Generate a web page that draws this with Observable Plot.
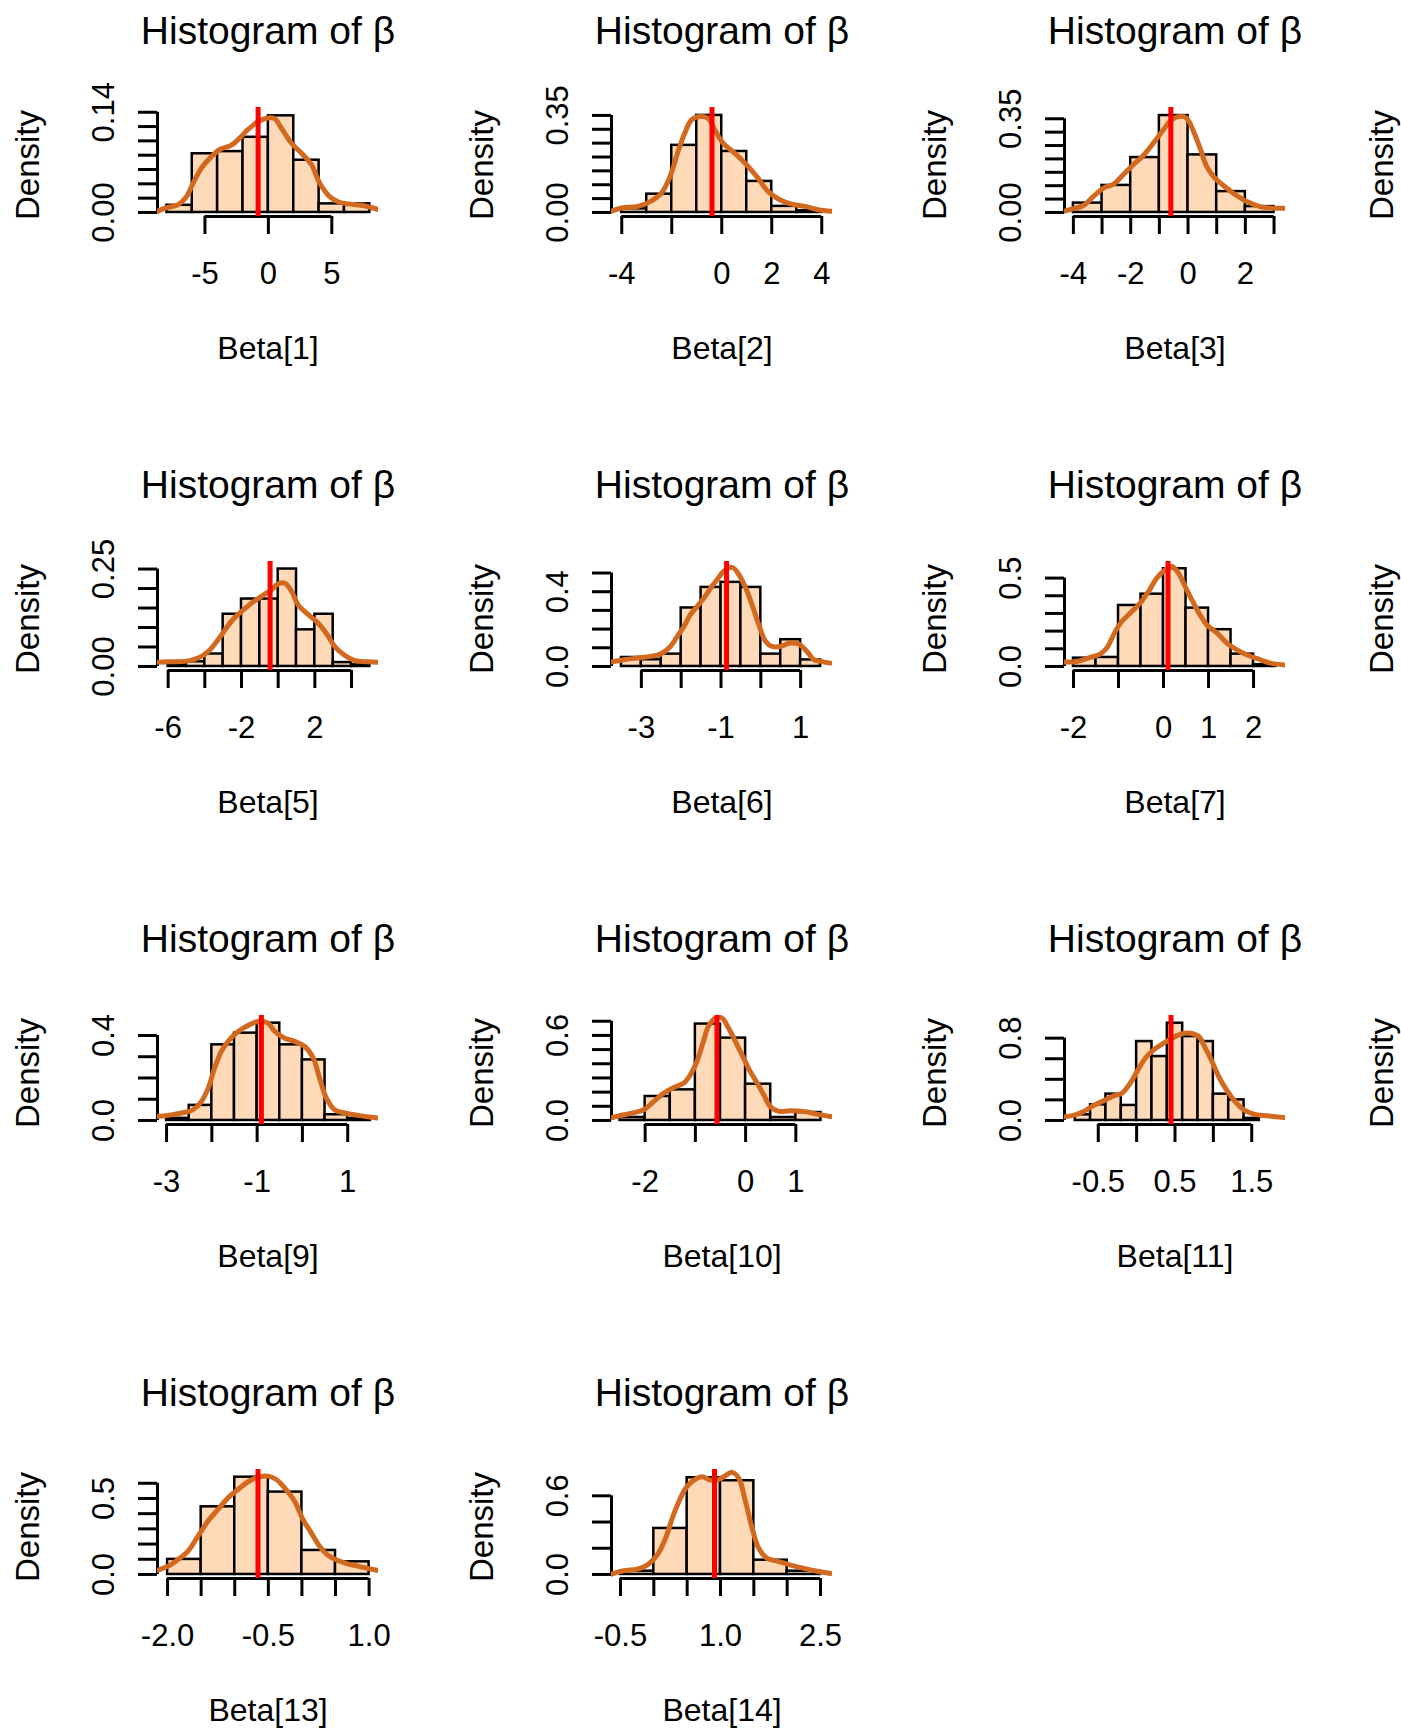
<!DOCTYPE html>
<html><head><meta charset="utf-8">
<script src="https://cdn.jsdelivr.net/npm/d3@7"></script>
<script src="https://cdn.jsdelivr.net/npm/@observablehq/plot@0.6"></script>
<style>
html,body{margin:0;padding:0;background:#fff;}
#page{position:relative;width:1401px;height:1728px;overflow:hidden;background:#fff;}
.cell{position:absolute;width:454px;height:454px;}
</style></head><body><div id="page"></div>
<script>
// ---- data ----
const betaIndex = [1, 2, 3, 5, 6, 7, 9, 10, 11, 13, 14];
const breakStart = [-8, -4, -4, -6, -3.5, -2, -3, -2.5, -0.8, -2, -0.5];
const binWidth = [2, 1, 1, 1, 0.5, 0.5, 0.5, 0.5, 0.2, 0.5, 0.5];
const barDensity = [
  [0.010, 0.082, 0.085, 0.105, 0.135, 0.073, 0.012, 0.012],
  [0.013, 0.066, 0.242, 0.350, 0.220, 0.112, 0.022, 0.006],
  [0.035, 0.101, 0.205, 0.362, 0.215, 0.078, 0.022],
  [0.004, 0.012, 0.032, 0.134, 0.173, 0.173, 0.250, 0.094, 0.134, 0.010, 0.004],
  [0.048, 0.036, 0.066, 0.313, 0.423, 0.450, 0.423, 0.066, 0.143, 0.035],
  [0.047, 0.051, 0.345, 0.409, 0.553, 0.330, 0.208, 0.070, 0.010],
  [0.010, 0.071, 0.356, 0.411, 0.458, 0.356, 0.285, 0.027, 0.008],
  [0.021, 0.169, 0.216, 0.680, 0.581, 0.256, 0.021, 0.056],
  [0.055, 0.152, 0.256, 0.146, 0.767, 0.621, 0.945, 0.815, 0.767, 0.256, 0.200, 0.020],
  [0.099, 0.445, 0.640, 0.542, 0.158, 0.083],
  [0.025, 0.351, 0.738, 0.715, 0.109, 0.025]
];
const curveX = [
  [-8.82,-8.16,-7.11,-6.46,-5.93,-5.28,-4.49,-3.83,-2.91,-2.26,-1.60,-0.81,-0.03,0.50,1.02,1.81,2.60,3.39,4.04,4.83,5.49,6.27,7.32,8.71],
  [-4.44,-4.01,-3.35,-2.81,-2.41,-2.15,-1.95,-1.75,-1.48,-1.21,-0.88,-0.55,-0.28,0.05,0.52,0.99,1.45,1.85,2.32,2.79,3.32,3.85,4.43],
  [-4.35,-4.0,-3.65,-3.30,-2.95,-2.60,-2.26,-1.91,-1.56,-1.21,-0.86,-0.57,-0.28,-0.05,0.19,0.42,0.65,0.94,1.28,1.58,2.05,2.51,2.98,3.38],
  [-6.6,-6.0,-5.09,-4.18,-3.64,-3.09,-2.55,-2.0,-1.45,-0.91,-0.36,0,0.36,0.73,1.09,1.64,2.18,2.64,3.09,3.64,4.18,4.91,5.45],
  [-3.77,-3.44,-3.10,-2.77,-2.52,-2.27,-2.10,-1.93,-1.77,-1.60,-1.43,-1.26,-1.10,-0.93,-0.72,-0.55,-0.38,-0.22,-0.05,0.12,0.28,0.49,0.74,0.95,1.16,1.33,1.50,1.75],
  [-2.22,-1.93,-1.63,-1.41,-1.26,-1.11,-0.96,-0.74,-0.52,-0.33,-0.15,0.04,0.19,0.33,0.48,0.63,0.81,0.96,1.19,1.41,1.63,1.85,2.15,2.37,2.67],
  [-3.21,-2.97,-2.67,-2.42,-2.23,-2.08,-1.94,-1.79,-1.64,-1.42,-1.20,-0.98,-0.76,-0.61,-0.39,-0.17,0.05,0.24,0.38,0.53,0.71,0.94,1.23,1.67],
  [-2.69,-2.49,-2.26,-2.03,-1.83,-1.63,-1.43,-1.23,-1.10,-0.97,-0.84,-0.74,-0.60,-0.47,-0.34,-0.17,-0.04,0.09,0.23,0.36,0.49,0.66,0.89,1.15,1.42,1.69],
  [-0.952,-0.822,-0.691,-0.561,-0.430,-0.300,-0.191,-0.083,0.004,0.113,0.222,0.352,0.461,0.570,0.700,0.809,0.896,0.983,1.070,1.157,1.265,1.396,1.526,1.700,1.917],
  [-2.157,-1.993,-1.844,-1.696,-1.547,-1.398,-1.249,-1.100,-0.952,-0.803,-0.654,-0.506,-0.382,-0.258,-0.109,0.015,0.139,0.263,0.387,0.536,0.684,0.833,0.982,1.130],
  [-0.65,-0.45,-0.25,-0.10,0.05,0.175,0.275,0.375,0.475,0.60,0.725,0.85,0.95,1.05,1.175,1.275,1.375,1.475,1.575,1.70,1.85,2.05,2.25,2.45,2.65]
];
const curveY = [
  [0.001,0.006,0.011,0.022,0.041,0.062,0.078,0.088,0.094,0.104,0.116,0.127,0.132,0.131,0.118,0.097,0.083,0.067,0.041,0.022,0.015,0.012,0.010,0.004],
  [0.004,0.016,0.022,0.042,0.070,0.112,0.160,0.220,0.286,0.334,0.346,0.340,0.298,0.250,0.214,0.172,0.124,0.076,0.046,0.030,0.022,0.010,0.004],
  [0.004,0.014,0.026,0.060,0.091,0.106,0.141,0.178,0.213,0.259,0.309,0.346,0.359,0.352,0.303,0.240,0.172,0.128,0.097,0.072,0.041,0.022,0.016,0.016],
  [0.011,0.012,0.013,0.026,0.047,0.081,0.116,0.141,0.163,0.180,0.197,0.212,0.214,0.193,0.158,0.133,0.111,0.084,0.051,0.028,0.015,0.012,0.011],
  [0.023,0.036,0.045,0.054,0.066,0.107,0.161,0.214,0.277,0.321,0.366,0.420,0.464,0.509,0.530,0.491,0.420,0.330,0.223,0.134,0.107,0.107,0.125,0.120,0.080,0.036,0.027,0.018],
  [0.025,0.028,0.051,0.070,0.104,0.179,0.245,0.302,0.358,0.425,0.500,0.547,0.566,0.528,0.453,0.377,0.292,0.236,0.189,0.132,0.094,0.066,0.038,0.019,0.009],
  [0.019,0.024,0.035,0.050,0.089,0.152,0.246,0.325,0.372,0.419,0.447,0.466,0.458,0.419,0.387,0.372,0.348,0.293,0.199,0.105,0.050,0.035,0.024,0.011],
  [0.017,0.035,0.052,0.075,0.134,0.193,0.233,0.264,0.322,0.416,0.558,0.664,0.722,0.722,0.652,0.534,0.440,0.346,0.264,0.181,0.099,0.064,0.068,0.064,0.045,0.028],
  [0.035,0.050,0.087,0.146,0.191,0.239,0.265,0.362,0.475,0.605,0.686,0.751,0.799,0.838,0.848,0.816,0.702,0.573,0.427,0.314,0.201,0.104,0.061,0.045,0.029],
  [0.026,0.055,0.099,0.154,0.252,0.351,0.428,0.504,0.559,0.610,0.640,0.647,0.625,0.570,0.482,0.362,0.274,0.186,0.127,0.092,0.070,0.055,0.039,0.026],
  [0.0,0.028,0.041,0.071,0.148,0.275,0.427,0.555,0.656,0.720,0.746,0.720,0.720,0.746,0.779,0.733,0.555,0.351,0.198,0.122,0.102,0.071,0.046,0.025,0.008]
];
const meanValue = [-0.81, -0.39, -0.60, -0.44, -0.86, 0.10, -0.906, -0.57, 0.448, -0.654, 0.91];
const xDomain = [
  [-8.74, 8.68], [-4.41, 4.43], [-4.31, 3.40], [-6.58, 5.47], [-3.75, 1.80], [-2.20, 2.71],
  [-3.20, 1.68], [-2.67, 1.73], [-0.94, 1.94], [-2.15, 1.14], [-0.635, 2.68]
];
const yMax = [0.141, 0.364, 0.377, 0.259, 0.54, 0.571, 0.475, 0.712, 0.981, 0.664, 0.77];
const xTicks = [
  [-5, 0, 5], [-4, -2, 0, 2, 4], [-4, -3, -2, -1, 0, 1, 2, 3], [-6, -4, -2, 0, 2, 4],
  [-3, -2, -1, 0, 1], [-2, -1, 0, 1, 2], [-3, -2, -1, 0, 1], [-2, -1, 0, 1],
  [-0.5, 0, 0.5, 1, 1.5], [-2, -1.5, -1, -0.5, 0, 0.5, 1], [-0.5, 0, 0.5, 1, 1.5, 2, 2.5]
];
const xTickLabels = [
  ["-5", "0", "5"], ["-4", "", "0", "2", "4"], ["-4", "", "-2", "", "0", "", "2", ""], ["-6", "", "-2", "", "2", ""],
  ["-3", "", "-1", "", "1"], ["-2", "", "0", "1", "2"], ["-3", "", "-1", "", "1"], ["-2", "", "0", "1"],
  ["-0.5", "", "0.5", "", "1.5"], ["-2.0", "", "", "-0.5", "", "", "1.0"], ["-0.5", "", "", "1.0", "", "", "2.5"]
];
const yTicks = [
  [0, 0.02, 0.04, 0.06, 0.08, 0.10, 0.12, 0.14],
  [0, 0.05, 0.10, 0.15, 0.20, 0.25, 0.30, 0.35],
  [0, 0.05, 0.10, 0.15, 0.20, 0.25, 0.30, 0.35],
  [0, 0.05, 0.10, 0.15, 0.20, 0.25],
  [0, 0.1, 0.2, 0.3, 0.4, 0.5],
  [0, 0.1, 0.2, 0.3, 0.4, 0.5],
  [0, 0.1, 0.2, 0.3, 0.4],
  [0, 0.1, 0.2, 0.3, 0.4, 0.5, 0.6, 0.7],
  [0, 0.2, 0.4, 0.6, 0.8],
  [0, 0.1, 0.2, 0.3, 0.4, 0.5, 0.6],
  [0, 0.2, 0.4, 0.6]
];
const yTickLabels = [
  ["0.00", "", "", "", "", "", "", "0.14"],
  ["0.00", "", "", "", "", "", "", "0.35"],
  ["0.00", "", "", "", "", "", "", "0.35"],
  ["0.00", "", "", "", "", "0.25"],
  ["0.0", "", "", "", "0.4", ""],
  ["0.0", "", "", "", "", "0.5"],
  ["0.0", "", "", "", "0.4"],
  ["0.0", "", "", "", "", "", "0.6", ""],
  ["0.0", "", "", "", "0.8"],
  ["0.0", "", "", "", "", "0.5", ""],
  ["0.0", "", "", "0.6"]
];
const titleText = "Histogram of β";
const yLabelText = "Density";

// ---- layout ----
const FONT = "'Liberation Sans', Arial, Helvetica, sans-serif";
const W = 454, H = 454, ML = 157, MR = 76, MT = 107, MB = 238;
const colStep = 453.5, rowStep = 454;
const page = document.getElementById("page");

function place(node, slot) {
  const wrap = document.createElement("div");
  wrap.className = "cell";
  wrap.style.left = (slot % 4) * colStep + "px";
  wrap.style.top = Math.floor(slot / 4) * rowStep + "px";
  wrap.appendChild(node);
  page.appendChild(wrap);
}

function densityLabel(dx) {
  return Plot.text([yLabelText], {text: d => d, frameAnchor: "left", rotate: -90, dx, dy: 3,
    textAnchor: "middle", lineAnchor: "bottom", fontSize: 33, fill: "black"});
}

function panel(i) {
  const k = betaIndex[i];
  const bins = barDensity[i].map((d, j) => ({
    x1: breakStart[i] + j * binWidth[i],
    x2: breakStart[i] + (j + 1) * binWidth[i],
    y: d
  }));
  const curve = curveX[i].map((x, j) => ({x, y: curveY[i][j]}));
  const yLo = -0.04 * yMax[i], yHi = 1.04 * yMax[i];
  const xt = xTicks[i], yt = yTicks[i];
  const xl = new Map(xt.map((t, j) => [t, xTickLabels[i][j]]));
  const ylab = yt.map((t, j) => ({y: t, text: yTickLabels[i][j]})).filter(d => d.text);
  return Plot.plot({
    width: W, height: H,
    marginLeft: ML, marginRight: MR, marginTop: MT, marginBottom: MB,
    x: {domain: xDomain[i], axis: null, label: null},
    y: {domain: [yLo, yHi], axis: null, label: null},
    style: {background: "transparent", fontFamily: FONT, color: "black", overflow: "visible"},
    marks: [
      Plot.rectY(bins, {x1: "x1", x2: "x2", y: "y", fill: "#FFDAB9", stroke: "black", strokeWidth: 2.5}),
      Plot.ruleX([xDomain[i][0]], {y1: 0, y2: yt[yt.length - 1], stroke: "black", strokeWidth: 3}),
      Plot.ruleY([yLo], {x1: xt[0], x2: xt[xt.length - 1], stroke: "black", strokeWidth: 3}),
      Plot.axisX(xt, {anchor: "bottom", tickSize: 18, tickPadding: 27, strokeWidth: 3, strokeLinecap: "butt",
        tickFormat: d => xl.get(d), fontSize: 31, fill: "black", label: null}),
      Plot.axisY(yt, {anchor: "left", tickSize: 19, strokeWidth: 3, strokeLinecap: "butt",
        tickFormat: () => "", label: null}),
      Plot.text(ylab, {y: "y", text: "text", frameAnchor: "left", rotate: -90, dx: -44,
        textAnchor: "middle", lineAnchor: "bottom", fontSize: 31, fill: "black"}),
      Plot.line(curve, {x: "x", y: "y", stroke: "#D2691E", strokeWidth: 5, curve: "catmull-rom", clip: true}),
      Plot.ruleX([meanValue[i]], {stroke: "#FF0000", strokeWidth: 5}),
      Plot.text([titleText], {text: d => d, frameAnchor: "top", dy: -64, lineAnchor: "bottom",
        textAnchor: "middle", fontSize: 39, fill: "black"}),
      Plot.text([`Beta[${k}]`], {text: d => d, frameAnchor: "bottom", dy: 142, lineAnchor: "bottom",
        textAnchor: "middle", fontSize: 32, fill: "black"}),
      densityLabel(-119)
    ]
  });
}

betaIndex.forEach((k, i) => place(panel(i), k - 1));

// 4th column panels are cut off by the picture's right edge: only their y label shows
[4, 8, 12].forEach(k => {
  const node = Plot.plot({
    width: W, height: H,
    marginLeft: ML, marginRight: MR, marginTop: MT, marginBottom: MB,
    style: {background: "transparent", fontFamily: FONT, color: "black", overflow: "visible"},
    marks: [densityLabel(-126)]
  });
  place(node, k - 1);
});
</script></body></html>
